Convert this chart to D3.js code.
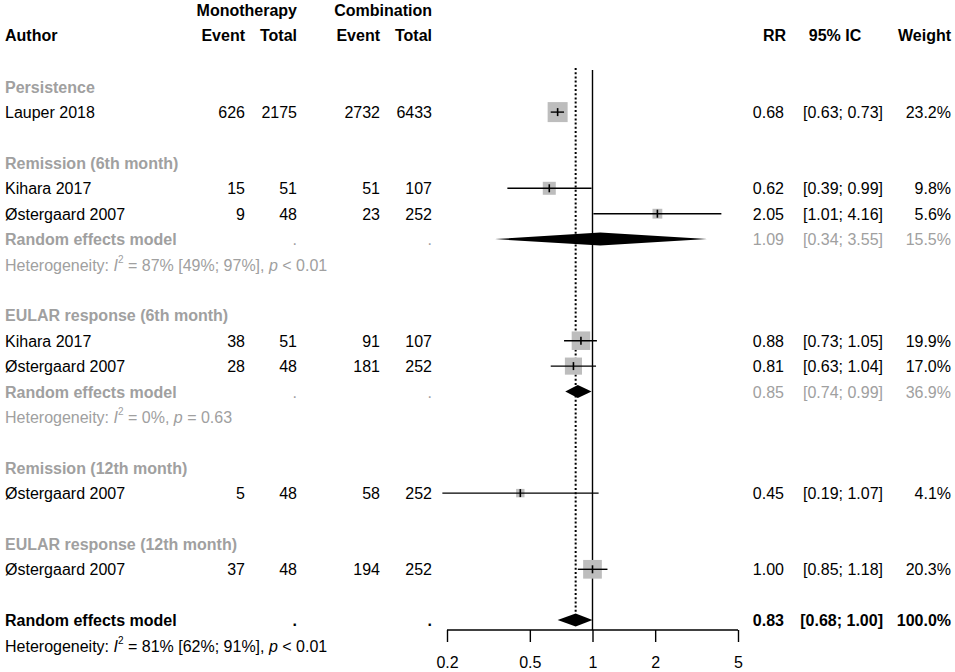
<!DOCTYPE html>
<html>
<head>
<meta charset="utf-8">
<script src="https://cdn.jsdelivr.net/npm/d3@7"></script>
<style>
  body { margin: 0; background: #fff; }
  svg text { font-family: "Liberation Sans", Arial, sans-serif; font-size: 16px; }
</style>
</head>
<body>
<div id="chart"></div>
<script>
// subgroups
var groupNames = ["Persistence", "Remission (6th month)", "EULAR response (6th month)",
                  "Remission (12th month)", "EULAR response (12th month)"];

// studies
var studyNames  = ["Lauper 2018", "Kihara 2017", "Østergaard 2007", "Kihara 2017", "Østergaard 2007", "Østergaard 2007", "Østergaard 2007"];
var studyGroup  = [0, 1, 1, 2, 2, 3, 4];
var monoEvent   = [626, 15, 9, 38, 28, 5, 37];
var monoTotal   = [2175, 51, 48, 51, 48, 48, 48];
var combEvent   = [2732, 51, 23, 91, 181, 58, 194];
var combTotal   = [6433, 107, 252, 107, 252, 252, 252];
var studyRR     = [0.68, 0.62, 2.05, 0.88, 0.81, 0.45, 1.00];
var studyLo     = [0.63, 0.39, 1.01, 0.73, 0.63, 0.19, 0.85];
var studyHi     = [0.73, 0.99, 4.16, 1.05, 1.04, 1.07, 1.18];
var studyWeight = [23.2, 9.8, 5.6, 19.9, 17.0, 4.1, 20.3];

// subgroup random effects (only groups with more than one study)
var reGroup  = [1, 2];
var reRR     = [1.09, 0.85];
var reLo     = [0.34, 0.74];
var reHi     = [3.55, 0.99];
var reWeight = [15.5, 36.9];
var reI2     = ["87% [49%; 97%]", "0%"];
var reP      = ["< 0.01", "= 0.63"];

// overall
var allRR = 0.83, allLo = 0.68, allHi = 1.00, allWeight = 100.0;
var allI2 = "81% [62%; 91%]", allP = "< 0.01";

var axisTicks = [0.2, 0.5, 1, 2, 5];

var grey = "#a0a0a0";
var width = 955, height = 672;
var rowY0 = 86.7, rowStep = 25.4;

var svg = d3.select("#chart").append("svg")
    .attr("width", width)
    .attr("height", height);

var x = d3.scaleLog().domain([0.2, 5]).range([447, 738]);
var f2 = d3.format(".2f");
var f1 = d3.format(".1f");

// build the row list
var rows = [];
groupNames.forEach(function (g, gi) {
    rows.push({type: "group", label: g});
    studyGroup.forEach(function (sg, i) {
        if (sg === gi) rows.push({type: "study", i: i});
    });
    var k = reGroup.indexOf(gi);
    if (k >= 0) {
        rows.push({type: "re", k: k});
        rows.push({type: "het", i2: reI2[k], p: reP[k], col: grey});
    }
    rows.push({type: "blank"});
});
rows.push({type: "all"});
rows.push({type: "het", i2: allI2, p: allP, col: "#000"});

function rowY(r) { return rowY0 + r * rowStep; }

function txt(xp, yc, s, anchor, bold, col) {
    return svg.append("text")
        .attr("x", xp)
        .attr("y", yc + 6)
        .attr("text-anchor", anchor)
        .attr("font-weight", bold ? "bold" : "normal")
        .attr("fill", col || "#000")
        .text(s);
}

// header
txt(297, 10, "Monotherapy", "end", true);
txt(432, 10, "Combination", "end", true);
txt(5, 35, "Author", "start", true);
txt(245, 35, "Event", "end", true);
txt(297, 35, "Total", "end", true);
txt(380, 35, "Event", "end", true);
txt(432, 35, "Total", "end", true);
txt(786, 35, "RR", "end", true);
txt(835, 35, "95% IC", "middle", true);
txt(951, 35, "Weight", "end", true);

// reference lines
var yAll = rowY(rows.findIndex(function (r) { return r.type === "all"; }));
svg.append("line")
    .attr("x1", x(1)).attr("x2", x(1))
    .attr("y1", 70).attr("y2", 630)
    .attr("stroke", "#000").attr("stroke-width", 1.4);
svg.append("line")
    .attr("x1", x(allRR)).attr("x2", x(allRR))
    .attr("y1", 68).attr("y2", yAll - 6.5)
    .attr("stroke", "#000").attr("stroke-width", 2)
    .attr("stroke-dasharray", "2,2.2");

function diamond(yc, est, lo, hi) {
    var h = 6.5;
    var pts = [[x(lo), yc], [x(est), yc - h], [x(hi), yc], [x(est), yc + h]];
    svg.append("polygon")
        .attr("points", pts.map(function (p) { return p.join(","); }).join(" "))
        .attr("fill", "#000");
}

function rightCols(yc, est, lo, hi, w, bold, col) {
    txt(784, yc, f2(est), "end", bold, col);
    txt(883, yc, "[" + f2(lo) + "; " + f2(hi) + "]", "end", bold, col);
    txt(951, yc, f1(w) + "%", "end", bold, col);
}

rows.forEach(function (r, ri) {
    var yc = rowY(ri);
    if (r.type === "group") {
        txt(5, yc, r.label, "start", true, grey);
    } else if (r.type === "study") {
        var i = r.i;
        txt(5, yc, studyNames[i], "start", false);
        txt(245, yc, monoEvent[i], "end", false);
        txt(297, yc, monoTotal[i], "end", false);
        txt(380, yc, combEvent[i], "end", false);
        txt(432, yc, combTotal[i], "end", false);
        var s = 4.15 * Math.sqrt(studyWeight[i]);
        svg.append("rect")
            .attr("x", x(studyRR[i]) - s / 2)
            .attr("y", yc - s / 2)
            .attr("width", s).attr("height", s)
            .attr("fill", "#bdbdbd");
        svg.append("line")
            .attr("x1", x(studyLo[i])).attr("x2", x(studyHi[i]))
            .attr("y1", yc).attr("y2", yc)
            .attr("stroke", "#000").attr("stroke-width", 1.4);
        svg.append("line")
            .attr("x1", x(studyRR[i])).attr("x2", x(studyRR[i]))
            .attr("y1", yc - 4).attr("y2", yc + 4)
            .attr("stroke", "#000").attr("stroke-width", 1.6);
        rightCols(yc, studyRR[i], studyLo[i], studyHi[i], studyWeight[i], false);
    } else if (r.type === "re") {
        var k = r.k;
        txt(5, yc, "Random effects model", "start", true, grey);
        txt(297, yc, ".", "end", false, grey);
        txt(432, yc, ".", "end", false, grey);
        diamond(yc, reRR[k], reLo[k], reHi[k]);
        rightCols(yc, reRR[k], reLo[k], reHi[k], reWeight[k], false, grey);
    } else if (r.type === "all") {
        txt(5, yc, "Random effects model", "start", true);
        txt(297, yc, ".", "end", true);
        txt(432, yc, ".", "end", true);
        diamond(yc, allRR, allLo, allHi);
        rightCols(yc, allRR, allLo, allHi, allWeight, true);
    } else if (r.type === "het") {
        var t = svg.append("text")
            .attr("x", 5).attr("y", yc + 6)
            .attr("fill", r.col);
        t.append("tspan").text("Heterogeneity: ");
        t.append("tspan").attr("font-style", "italic").text("I");
        t.append("tspan").attr("font-size", "10px").attr("dy", -8).text("2");
        t.append("tspan").attr("dy", 8).text(" = " + r.i2 + ", ");
        t.append("tspan").attr("font-style", "italic").text("p");
        t.append("tspan").text(" " + r.p);
    }
});

// x axis
var axis = svg.append("g")
    .attr("transform", "translate(0,630)")
    .call(d3.axisBottom(x).tickValues(axisTicks).tickFormat(d3.format("")).tickSize(12).tickPadding(15));
axis.select(".domain").attr("stroke-width", 1.4).attr("d", "M" + x(0.2) + ",0H" + x(5));
axis.selectAll(".tick line").attr("stroke-width", 1.4);
axis.selectAll(".tick text")
    .attr("font-size", "16px")
    .attr("font-family", "Liberation Sans, Arial, sans-serif")
    .attr("fill", "#000");
</script>
</body>
</html>
